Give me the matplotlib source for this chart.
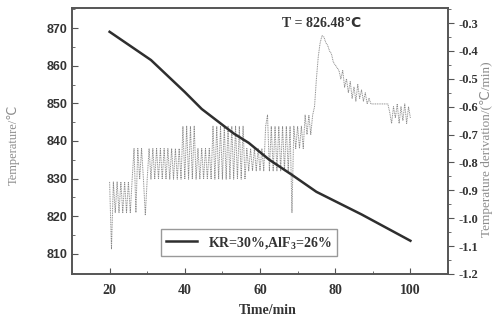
import matplotlib
matplotlib.use('Agg')
import matplotlib.pyplot as plt
from matplotlib.ticker import MultipleLocator

plt.rcParams['mathtext.fontset'] = 'custom'
plt.rcParams['mathtext.rm'] = 'Liberation Serif:bold'
plt.rcParams['mathtext.bf'] = 'Liberation Serif:bold'

serif = ['Liberation Serif', 'DejaVu Sans']

# temperature curve (left axis, degC)
temp_time = [20, 31, 40, 44.5, 53, 57, 62.5, 68.5, 75, 87, 100]
temp_val = [869, 861.5, 853, 848.5, 842, 839.5, 835, 831, 826.5, 820.5, 813.5]

# temperature derivative (right axis, degC/min), one reading every 0.5 min
deriv_time = [20 + 0.5 * i for i in range(161)]
deriv_val = [
    -0.87, -1.11, -0.87, -0.98, -0.87, -0.98, -0.87, -0.98, -0.87, -0.98,   # 20.0-24.5
    -0.87, -0.98, -0.86, -0.75, -0.98, -0.75, -0.86, -0.75, -0.86, -0.99,   # 25.0-29.5
    -0.86, -0.75, -0.86, -0.75, -0.86, -0.75, -0.86, -0.75, -0.86, -0.75,   # 30.0-34.5
    -0.86, -0.75, -0.86, -0.75, -0.86, -0.75, -0.86, -0.75, -0.86, -0.67,   # 35.0-39.5
    -0.86, -0.67, -0.86, -0.67, -0.86, -0.67, -0.86, -0.75, -0.86, -0.75,   # 40.0-44.5
    -0.86, -0.75, -0.86, -0.75, -0.86, -0.67, -0.86, -0.67, -0.86, -0.67,   # 45.0-49.5
    -0.86, -0.67, -0.86, -0.67, -0.86, -0.67, -0.86, -0.67, -0.86, -0.67,   # 50.0-54.5
    -0.86, -0.67, -0.86, -0.75, -0.83, -0.75, -0.83, -0.75, -0.83, -0.75,   # 55.0-59.5
    -0.83, -0.75, -0.83, -0.67, -0.63, -0.83, -0.67, -0.83, -0.67, -0.83,   # 60.0-64.5
    -0.67, -0.83, -0.67, -0.83, -0.67, -0.83, -0.67, -0.98, -0.67, -0.75,   # 65.0-69.5
    -0.67, -0.75, -0.67, -0.75, -0.63, -0.70, -0.63, -0.70, -0.63, -0.60,   # 70.0-74.5
    -0.50, -0.42, -0.37, -0.345, -0.35, -0.37, -0.38, -0.40, -0.41, -0.44,  # 75.0-79.5
    -0.45, -0.46, -0.47, -0.50, -0.47, -0.53, -0.50, -0.55, -0.51, -0.57,   # 80.0-84.5
    -0.53, -0.58, -0.52, -0.57, -0.54, -0.58, -0.55, -0.59, -0.57, -0.59,   # 85.0-89.5
    -0.59, -0.59, -0.59, -0.59, -0.59, -0.59, -0.59, -0.59, -0.59, -0.62,   # 90.0-94.5
    -0.66, -0.60, -0.64, -0.59, -0.66, -0.60, -0.65, -0.59, -0.66, -0.60,   # 95.0-99.5
    -0.64,                                                                  # 100.0
]

fig = plt.figure(figsize=(5, 3.23), dpi=100)
ax = fig.add_axes([0.144, 0.152, 0.752, 0.823])
ax2 = ax.twinx()

ax2.plot(deriv_time, deriv_val, color='#8a8a8a', lw=0.7, ls=(0, (1, 0.8)))
ax.plot(temp_time, temp_val, color='#2e2e2e', lw=1.8, label='KR=30%,AlF$_3$=26%')
ax.set_zorder(ax2.get_zorder() + 1)
ax.patch.set_visible(False)

ax.set_xlim(10, 110)
ax.set_ylim(804.7, 875.3)
ax2.set_ylim(-1.2, -0.246)

ax.xaxis.set_major_locator(MultipleLocator(20))
ax.xaxis.set_minor_locator(MultipleLocator(10))
ax.yaxis.set_major_locator(MultipleLocator(10))
ax.yaxis.set_minor_locator(MultipleLocator(5))
ax2.yaxis.set_major_locator(MultipleLocator(0.1))
ax2.yaxis.set_minor_locator(MultipleLocator(0.05))

ax.tick_params(axis='both', which='both', direction='in', color='#555555')
ax.tick_params(which='major', length=4)
ax.tick_params(which='minor', length=2)
ax.tick_params(axis='x', pad=7)
ax.tick_params(top=False, which='both')
ax2.tick_params(which='both', direction='out', color='#555555')
ax2.tick_params(which='major', length=4)
ax2.tick_params(which='minor', length=2)

for lab in ax.get_yticklabels():
    lab.set_fontfamily('Liberation Sans')
    lab.set_fontweight('bold')
    lab.set_fontsize(9)
    lab.set_color('#333333')
for lab in ax.get_xticklabels():
    lab.set_fontfamily('Liberation Serif')
    lab.set_fontweight('bold')
    lab.set_fontsize(10)
    lab.set_color('#333333')
ax2.set_yticks([-0.3, -0.4, -0.5, -0.6, -0.7, -0.8, -0.9, -1.0, -1.1, -1.2])
ax2.set_yticklabels(['-0.3', '-0.4', '-0.5', '-0.6', '-0.7', '-0.8', '-0.9', '-1.0', '-1.1', '-1.2'],
                    fontfamily='Liberation Serif', fontweight='bold', fontsize=9, color='#333333')

for sp in ax.spines.values():
    sp.set_color('#555555')
    sp.set_linewidth(1.2)
for sp in ax2.spines.values():
    sp.set_color('#555555')
    sp.set_linewidth(1.2)

ax.set_xlabel('Time/min', family=serif, fontweight='bold', fontsize=10, color='#333333')
ax.xaxis.set_label_coords(0.52, -0.115)
ax.set_ylabel('Temperature/℃', family=serif, fontsize=9, color='#8c8c8c')
ax.yaxis.set_label_coords(-0.14, 0.485)
ax2.set_ylabel('Temperature derivation/(℃/min)', family=serif, fontsize=9.5, color='#8c8c8c',
               rotation=90)
ax2.yaxis.set_label_coords(1.085, 0.47)

ax.text(76.5, 873, 'T = 826.48℃', family=serif, fontweight='bold', fontsize=10,
        color='#333333', ha='center', va='top')

leg = ax.legend(loc='center', bbox_to_anchor=(0.471, 0.118), fancybox=False,
                edgecolor='#999999', framealpha=1, handlelength=2.2,
                prop={'family': 'Liberation Serif', 'weight': 'bold', 'size': 10})
leg.get_frame().set_linewidth(1.0)
for t in leg.get_texts():
    t.set_color('#333333')

fig.savefig('out.png', dpi=100)
